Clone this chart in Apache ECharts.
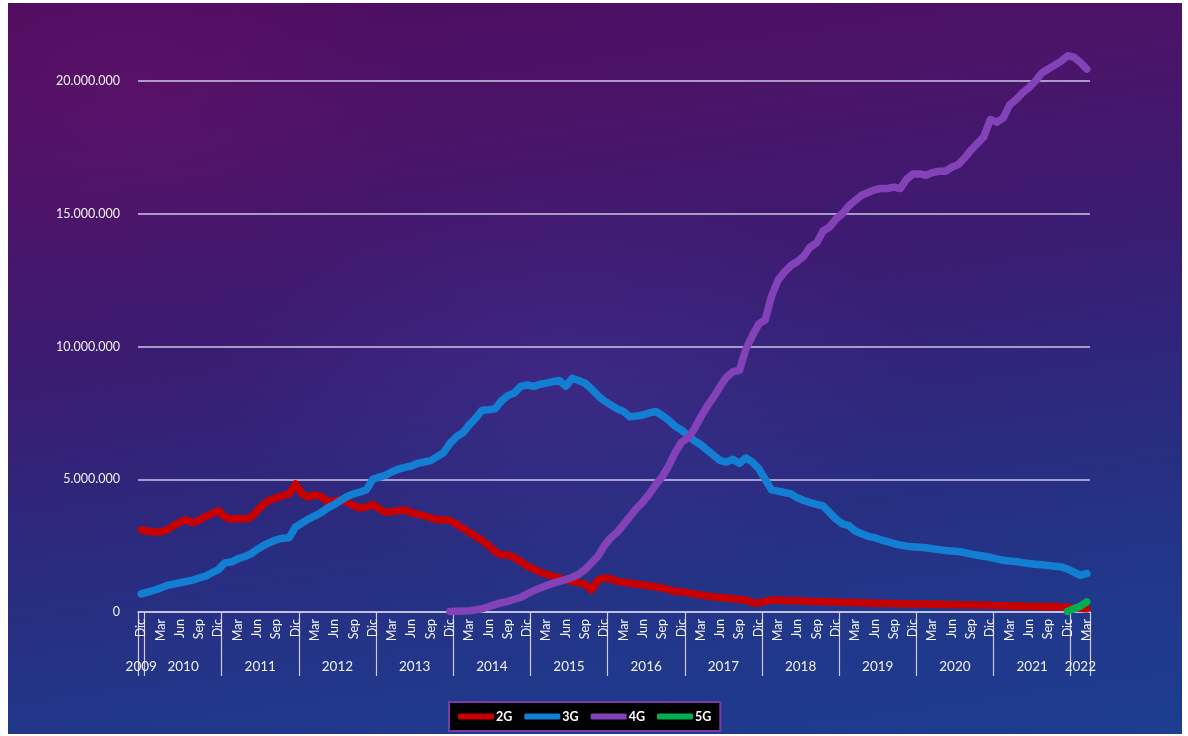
<!DOCTYPE html>
<html>
<head>
<meta charset="utf-8">
<script src="https://cdn.jsdelivr.net/npm/echarts/dist/echarts.min.js"></script>
<style>
  html, body { margin: 0; padding: 0; background: #ffffff; }
  #bg {
    position: absolute; left: 8px; top: 3px; width: 1174px; height: 731px;
    background:
      radial-gradient(ellipse 420px 260px at 120px 90px, rgba(110, 20, 110, 0.35), rgba(110,20,110,0) 70%),
      radial-gradient(ellipse 500px 300px at 560px 380px, rgba(80, 60, 170, 0.25), rgba(80,60,170,0) 70%),
      linear-gradient(172deg, #4f0c5e 0%, #4a1469 22%, #3b1c72 42%, #2b2a7e 62%, #21378a 82%, #1d3d8f 100%);
  }
  #chart { position: absolute; left: 0; top: 0; width: 1188px; height: 736px; }
</style>
</head>
<body>
<div id="bg"></div>
<div id="chart"></div>
<script>
// ---- tick labels ----
const monthNames = ['Ene','Feb','Mar','Abr','May','Jun','Jul','Ago','Sep','Oct','Nov','Dic'];
const firstYear = 2009;      // series start: Dic 2009
const firstMonthIdx = 11;
const monthCount = 148;      // Dic 2009 .. Mar 2022

// ---- series values (millones de líneas) ----
const s2G = [
  3.09,
  3.05, 3.0, 3.02, 3.08, 3.25, 3.38, 3.47, 3.36, 3.45, 3.6, 3.7, 3.82,
  3.57, 3.5, 3.52, 3.5, 3.55, 3.8, 4.05, 4.22, 4.3, 4.38, 4.45, 4.82,
  4.45, 4.32, 4.42, 4.35, 4.15, 4.18, 4.22, 4.15, 4.0, 3.92, 3.95, 4.05,
  3.88, 3.75, 3.78, 3.82, 3.84, 3.75, 3.68, 3.62, 3.55, 3.47, 3.48, 3.45,
  3.3, 3.15, 3.0, 2.85, 2.7, 2.5, 2.28, 2.15, 2.15, 2.05, 1.9, 1.72,
  1.62, 1.5, 1.42, 1.35, 1.28, 1.2, 1.15, 1.1, 1.05, 0.82, 1.2, 1.28,
  1.25, 1.15, 1.12, 1.08, 1.05, 1.02, 0.98, 0.95, 0.9, 0.85, 0.78, 0.76,
  0.72, 0.68, 0.64, 0.6, 0.57, 0.55, 0.53, 0.5, 0.47, 0.45, 0.35, 0.34,
  0.4, 0.45, 0.44, 0.43, 0.42, 0.42, 0.41, 0.4, 0.4, 0.39, 0.38, 0.38,
  0.37, 0.36, 0.36, 0.35, 0.34, 0.33, 0.33, 0.32, 0.32, 0.31, 0.31, 0.3,
  0.3, 0.3, 0.29, 0.29, 0.28, 0.28, 0.27, 0.27, 0.26, 0.26, 0.25, 0.25,
  0.24, 0.24, 0.23, 0.23, 0.22, 0.22, 0.21, 0.21, 0.2, 0.2, 0.19, 0.18,
  0.16, 0.14, 0.12
];
const s3G = [
  0.68,
  0.75, 0.82, 0.9, 1.0, 1.05, 1.1, 1.15, 1.2, 1.28, 1.35, 1.48, 1.6,
  1.85, 1.88, 2.0, 2.08, 2.18, 2.35, 2.5, 2.62, 2.72, 2.78, 2.8, 3.2,
  3.35, 3.5, 3.62, 3.75, 3.92, 4.05, 4.2, 4.35, 4.45, 4.52, 4.6, 5.0,
  5.08, 5.15, 5.28, 5.38, 5.45, 5.5, 5.6, 5.65, 5.7, 5.85, 6.0, 6.35,
  6.6, 6.75, 7.05, 7.3, 7.6, 7.62, 7.65, 7.95, 8.15, 8.25, 8.5, 8.55,
  8.5, 8.58, 8.62, 8.68, 8.72, 8.5, 8.8, 8.72, 8.62, 8.4, 8.15, 7.95,
  7.8, 7.65, 7.55, 7.35, 7.38, 7.42, 7.5, 7.55, 7.4, 7.22, 7.0, 6.85,
  6.65, 6.45, 6.3, 6.1, 5.9, 5.7, 5.65, 5.75, 5.6, 5.8, 5.65, 5.4,
  5.0, 4.6, 4.55, 4.5, 4.45, 4.3, 4.2, 4.12, 4.05, 4.0, 3.75, 3.5,
  3.32, 3.25, 3.05, 2.95, 2.85, 2.8, 2.72, 2.65, 2.58, 2.52, 2.48, 2.46,
  2.44, 2.42, 2.38, 2.35, 2.32, 2.3, 2.28, 2.24, 2.18, 2.14, 2.1, 2.06,
  2.0, 1.95, 1.92, 1.9, 1.86, 1.83, 1.8, 1.78, 1.75, 1.72, 1.7, 1.62,
  1.5, 1.38, 1.45
];
const s4GStart = 'Dic 2013';
const s4G = [
  0.02,
  0.03, 0.04, 0.05, 0.08, 0.12, 0.2, 0.28, 0.35, 0.4, 0.48, 0.55, 0.68,
  0.8, 0.9, 1.0, 1.08, 1.15, 1.22, 1.3, 1.42, 1.6, 1.85, 2.1, 2.5,
  2.8, 3.0, 3.3, 3.6, 3.9, 4.15, 4.45, 4.8, 5.1, 5.5, 6.0, 6.4,
  6.55, 6.9, 7.35, 7.75, 8.1, 8.5, 8.85, 9.05, 9.1, 9.9, 10.4, 10.85,
  11.0, 11.9, 12.5, 12.8, 13.05, 13.2, 13.4, 13.75, 13.9, 14.35, 14.5, 14.8,
  15.0, 15.3, 15.5, 15.7, 15.8, 15.9, 15.95, 15.95, 16.0, 15.95, 16.3, 16.5,
  16.5, 16.45, 16.55, 16.6, 16.6, 16.75, 16.85, 17.1, 17.4, 17.65, 17.9, 18.55,
  18.45, 18.6, 19.1, 19.3, 19.55, 19.75, 20.0, 20.3, 20.45, 20.6, 20.75, 20.95,
  20.9, 20.7, 20.45
];
const s5GStart = 'Dic 2021';
const s5G = [0.02, 0.12, 0.22, 0.38];

const seriesNames = ['2G', '3G', '4G', '5G'];
const seriesColors = ['#c80000', '#137fd2', '#8342b8', '#00b050'];

// ---- categories ----
const categories = [];
const yearOf = [];
for (let i = 0; i < monthCount; i++) {
  const m = (firstMonthIdx + i) % 12;
  const y = firstYear + Math.floor((firstMonthIdx + i) / 12);
  categories.push(monthNames[m] + ' ' + y);
  yearOf.push(String(y));
}
function fromStart(startCat, vals) {
  const s = categories.indexOf(startCat);
  return vals.map((v, k) => [categories[s + k], v]);
}

function fmtNum(v) {
  const n = Math.round(v * 1000000);
  return String(n).replace(/\B(?=(\d{3})+(?!\d))/g, '.');
}

const chart = echarts.init(document.getElementById('chart'), null, { renderer: 'canvas' });
const lastIdx = monthCount - 1;

function mkSeries(i, data) {
  return {
    name: seriesNames[i], type: 'line', data: data, symbol: 'none', clip: false,
    xAxisIndex: 0, yAxisIndex: 0,
    lineStyle: { width: 7.5, color: seriesColors[i], cap: 'round', join: 'round' },
    itemStyle: { color: seriesColors[i] },
    emphasis: { disabled: true }
  };
}

const option = {
  backgroundColor: 'transparent',
  animation: false,
  textStyle: { fontFamily: 'Lato, "Open Sans", sans-serif' },
  grid: { left: 138, right: 98, top: 81, bottom: 124, containLabel: false },
  legend: {
    left: 449, top: 702,
    backgroundColor: '#000000', borderColor: '#7a3aa8', borderWidth: 2,
    padding: [8, 9, 8, 9], itemGap: 12,
    itemWidth: 36, itemHeight: 6, icon: 'roundRect',
    textStyle: { color: '#ffffff', fontWeight: 'bold', fontSize: 12.5, fontFamily: 'Lato, sans-serif', padding: [0, 0, 0, -3] },
    data: seriesNames
  },
  xAxis: [
    {
      type: 'category', data: categories, boundaryGap: true, position: 'bottom',
      axisLine: { show: true, lineStyle: { color: '#cfc8e6', width: 1.5 } },
      axisTick: {
        show: true, length: 64, lineStyle: { color: '#cfc8e6', width: 1.2 },
        interval: function (idx, val) { return idx === 0 || val.indexOf('Ene') === 0; }
      },
      axisLabel: {
        interval: 2, rotate: 90, margin: 7, color: '#f4f4f4', fontSize: 12.5,
        fontFamily: 'Lato, sans-serif',
        formatter: function (v) { return v.split(' ')[0]; }
      },
      splitLine: { show: false }
    },
    {
      type: 'category', data: yearOf, boundaryGap: true, position: 'bottom',
      axisLine: { show: false }, axisTick: { show: false },
      axisLabel: {
        margin: 48, color: '#f0f0f0', fontSize: 13.5, fontFamily: 'Lato, sans-serif',
        interval: function (idx) {
          return idx === 0 || idx === lastIdx - 1 ||
            (categories[idx].indexOf('Jun') === 0 && idx < lastIdx - 3);
        },
        formatter: function (v, idx) {
          if (idx === 0 || idx === lastIdx - 1) return '{n|' + v + '}';
          return '{s|' + v + '}';
        },
        rich: {
          n: { color: '#f0f0f0', fontSize: 13.5, fontFamily: 'Lato, sans-serif' },
          s: { color: '#f0f0f0', fontSize: 13.5, fontFamily: 'Lato, sans-serif', padding: [0, 0, 0, 6.5] }
        }
      },
      splitLine: { show: false }
    }
  ],
  yAxis: {
    type: 'value', min: 0, max: 20, interval: 5,
    axisLine: { show: false }, axisTick: { show: false },
    axisLabel: { margin: 18, color: '#f0f0f0', fontSize: 12.5, fontFamily: 'Lato, sans-serif', formatter: fmtNum },
    splitLine: { show: true, lineStyle: { color: '#cdc6e4', width: 1.5 } }
  },
  series: [
    mkSeries(0, s2G),
    mkSeries(1, s3G),
    mkSeries(2, fromStart(s4GStart, s4G)),
    mkSeries(3, fromStart(s5GStart, s5G))
  ]
};
chart.setOption(option);
</script>
</body>
</html>
